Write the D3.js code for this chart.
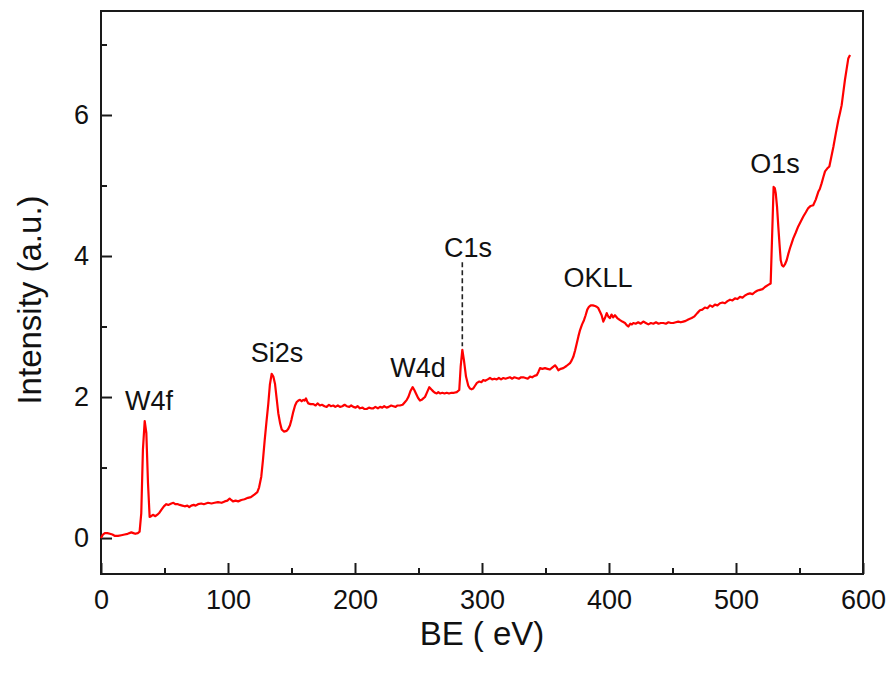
<!DOCTYPE html>
<html>
<head>
<meta charset="utf-8">
<script src="https://cdn.jsdelivr.net/npm/d3@7"></script>
<style>
    body { margin: 0; background: #fff; }
    svg { display: block; font-family: "Liberation Sans", Arial, sans-serif; }
</style>
</head>
<body>
<div id="chart"></div>
<script>
// XPS survey spectrum
const be = [
    0, 1.5, 3, 5, 7, 9, 11, 13.4, 16, 18.6, 21, 23.9, 25.5, 27, 29, 30.4, 31.7, 33, 34.4, 35.7,
    37, 38.3, 39.5, 40.9, 42.8, 44.9, 46, 47.5, 49.5, 51.4, 53, 55.4, 57, 58.5, 60.6, 62, 64, 65.9, 68, 69.5,
    71.1, 73, 74.5, 76.4, 79, 81, 84.3, 87, 89.5, 92.1, 95, 97.4, 99.5, 101.3, 102.5, 103.9, 106, 108, 110.5, 113,
    115.7, 118, 121, 123.1, 124.5, 126.2, 127.5, 128.9, 130.3, 131.7, 133, 134.4, 135.7, 137, 138.3, 139.6, 141, 142.3, 144, 146.2,
    147.5, 148.8, 150, 151.4, 152.8, 154.1, 155.4, 156.7, 158, 159.3, 160.3, 161.4, 162.3, 163.2, 165, 167.2, 169, 170.5, 172.4, 174,
    176, 177.7, 179.5, 181, 182.9, 184.5, 186.5, 188.2, 190, 191.8, 193.5, 195.5, 197, 198.7, 200.5, 202, 203.9, 206, 207.5, 209.2,
    211, 212.5, 214.4, 216, 218, 219.7, 221.5, 223, 224.9, 226.5, 228.5, 230.2, 232, 233.5, 235.4, 237.5, 239.4, 240.8, 242, 243.8,
    245.4, 246.7, 248, 249.6, 251.2, 252.5, 253.8, 255.1, 256.8, 258.5, 260, 261.6, 263, 264.3, 265.6, 267, 268.8, 270.5, 272.2, 274,
    276, 278, 280.1, 282.1, 283.2, 284.5, 285.8, 287.4, 289.2, 290.5, 291.8, 293, 294.5, 296, 297.9, 299.5, 301, 302.5, 304.5, 306.3,
    308, 309.8, 311.6, 313.3, 315, 316.8, 318.5, 320.2, 322, 323.8, 325.5, 327.3, 329, 330.8, 332.5, 334.3, 336, 337.8, 339.5, 341.3,
    343.1, 344.5, 345.7, 347.5, 349.6, 351.5, 353.5, 355.5, 357.5, 358.8, 360.1, 362, 364, 366.5, 369.3, 370.6, 371.9, 373.3, 374.6, 375.9,
    377.2, 378.8, 380.3, 381.6, 382.9, 384.2, 385.6, 387.3, 389, 390.3, 391.6, 392.9, 394.2, 395.5, 396.8, 398.2, 399.5, 400.8, 402, 403.3,
    404.7, 406.5, 408.7, 410.5, 412.6, 413.9, 415.2, 416.8, 418, 419.2, 421, 423, 425, 427, 429, 431, 433, 434.9, 437, 439,
    440.8, 442.8, 444.8, 446.8, 448.7, 450.6, 452.6, 454.5, 456.5, 458.5, 460.4, 462.4, 465.1, 467, 469.5, 471.6, 473.5, 475.5, 477.5, 479.5,
    481.5, 483.4, 485.4, 487.4, 489.4, 491.3, 493.3, 495.3, 497.2, 499.2, 501.2, 503.1, 505.1, 507.1, 509, 511, 513, 515, 517, 518.9,
    520.9, 522.8, 525.4, 527.3, 528.9, 529.6, 530.6, 531.3, 532.3, 533.3, 534.3, 535.2, 536.2, 537.3, 538.5, 539.9, 541.2, 542.5, 543.8, 545.1,
    547, 549, 551, 553, 555, 556.9, 558.8, 560.8, 562.8, 564.8, 566, 567.4, 568.8, 570.1, 571.8, 573.5, 575, 576.7, 578.6, 580.6,
    582, 583.2, 584.5, 585.8, 587.1, 588.4, 589.8
];

const intensity = [
    0.00, 0.05, 0.07, 0.07, 0.06, 0.05, 0.03, 0.03, 0.04, 0.05, 0.06, 0.08, 0.07, 0.06, 0.07, 0.09, 0.35, 1.25, 1.66, 1.49,
    0.78, 0.30, 0.31, 0.33, 0.31, 0.34, 0.36, 0.40, 0.45, 0.48, 0.47, 0.49, 0.50, 0.48, 0.48, 0.47, 0.46, 0.45, 0.46, 0.44,
    0.46, 0.47, 0.46, 0.48, 0.49, 0.48, 0.50, 0.49, 0.50, 0.51, 0.50, 0.52, 0.53, 0.56, 0.54, 0.52, 0.53, 0.52, 0.54, 0.55,
    0.57, 0.58, 0.62, 0.65, 0.72, 0.87, 1.10, 1.39, 1.65, 1.90, 2.18, 2.33, 2.29, 2.19, 1.98, 1.77, 1.63, 1.54, 1.51, 1.52,
    1.55, 1.60, 1.68, 1.79, 1.88, 1.93, 1.95, 1.96, 1.94, 1.96, 1.95, 1.98, 1.94, 1.91, 1.90, 1.90, 1.88, 1.91, 1.88, 1.89,
    1.87, 1.86, 1.89, 1.87, 1.88, 1.86, 1.88, 1.86, 1.87, 1.89, 1.87, 1.86, 1.88, 1.86, 1.85, 1.87, 1.84, 1.85, 1.83, 1.83,
    1.85, 1.84, 1.84, 1.86, 1.84, 1.86, 1.85, 1.87, 1.85, 1.86, 1.88, 1.87, 1.86, 1.88, 1.88, 1.89, 1.93, 1.96, 2.00, 2.09,
    2.14, 2.10, 2.05, 1.99, 1.95, 1.96, 1.98, 2.00, 2.07, 2.14, 2.11, 2.08, 2.06, 2.05, 2.07, 2.05, 2.06, 2.05, 2.06, 2.05,
    2.06, 2.06, 2.07, 2.10, 2.43, 2.67, 2.52, 2.29, 2.16, 2.12, 2.11, 2.12, 2.16, 2.20, 2.22, 2.21, 2.24, 2.23, 2.25, 2.27,
    2.25, 2.26, 2.25, 2.27, 2.25, 2.27, 2.26, 2.27, 2.28, 2.26, 2.28, 2.27, 2.26, 2.28, 2.28, 2.27, 2.26, 2.29, 2.28, 2.30,
    2.31, 2.36, 2.41, 2.40, 2.41, 2.40, 2.39, 2.42, 2.45, 2.42, 2.38, 2.40, 2.41, 2.44, 2.48, 2.52, 2.57, 2.66, 2.76, 2.86,
    2.95, 3.03, 3.09, 3.16, 3.24, 3.28, 3.30, 3.30, 3.29, 3.28, 3.26, 3.21, 3.16, 3.07, 3.12, 3.19, 3.14, 3.12, 3.17, 3.13,
    3.16, 3.12, 3.09, 3.07, 3.05, 3.02, 3.00, 3.04, 3.03, 3.05, 3.04, 3.06, 3.04, 3.07, 3.05, 3.03, 3.05, 3.04, 3.06, 3.04,
    3.05, 3.05, 3.04, 3.06, 3.05, 3.05, 3.06, 3.07, 3.06, 3.07, 3.08, 3.10, 3.12, 3.14, 3.19, 3.23, 3.24, 3.27, 3.26, 3.30,
    3.28, 3.31, 3.30, 3.33, 3.34, 3.33, 3.36, 3.38, 3.37, 3.40, 3.39, 3.42, 3.41, 3.44, 3.46, 3.47, 3.46, 3.49, 3.51, 3.52,
    3.53, 3.56, 3.59, 3.61, 4.56, 4.98, 4.96, 4.89, 4.70, 4.42, 4.16, 3.94, 3.87, 3.85, 3.88, 3.94, 4.03, 4.11, 4.18, 4.25,
    4.33, 4.42, 4.49, 4.56, 4.62, 4.68, 4.71, 4.72, 4.80, 4.91, 4.95, 5.03, 5.12, 5.20, 5.24, 5.27, 5.40, 5.55, 5.74, 5.93,
    6.04, 6.14, 6.32, 6.50, 6.65, 6.80, 6.85
];

const xMajorTicks = [0, 100, 200, 300, 400, 500, 600];
const xMinorTicks = [50, 150, 250, 350, 450, 550];
const yMajorTicks = [0, 2, 4, 6];
const yMinorTicks = [1, 3, 5, 7];

// peak labels, placed in data units (text centre x, baseline y)
const peakNames = ["W4f", "Si2s", "W4d", "C1s", "OKLL", "O1s"];
const peakLabelBE = [37.8, 138.6, 249.6, 289.0, 391.3, 530.7];
const peakLabelI = [1.82, 2.50, 2.28, 3.99, 3.56, 5.18];

// dashed marker above C1s
const c1sMarker = { be: 284.5, from: 3.91, to: 2.72 };

const width = 896;
const height = 677;
const margin = { top: 11, right: 33, bottom: 103, left: 101 };
const plotW = width - margin.left - margin.right;
const plotH = height - margin.top - margin.bottom;

const svg = d3.select("#chart")
              .append("svg")
              .attr("width", width)
              .attr("height", height);

const g = svg.append("g")
             .attr("transform", `translate(${margin.left},${margin.top})`);

const x = d3.scaleLinear().domain([0, 600]).range([0, plotW]);
const y = d3.scaleLinear().domain([-0.51, 7.475]).range([plotH, 0]);

// Axes (ticks point inward)
const xAxis = g.append("g")
               .attr("transform", `translate(0,${plotH})`)
               .call(d3.axisBottom(x).tickValues(xMajorTicks).tickSize(-11).tickPadding(16));
const xMinor = g.append("g")
                .attr("transform", `translate(0,${plotH})`)
                .call(d3.axisBottom(x).tickValues(xMinorTicks).tickSize(-6).tickFormat(""));
const yAxis = g.append("g")
               .call(d3.axisLeft(y).tickValues(yMajorTicks).tickSize(-11).tickPadding(12));
const yMinor = g.append("g")
                .call(d3.axisLeft(y).tickValues(yMinorTicks).tickSize(-6).tickFormat(""));

[xAxis, xMinor, yAxis, yMinor].forEach(a => {
    a.attr("font-size", null).attr("font-family", null);
    a.select(".domain").remove();
    a.selectAll("line").attr("stroke", "#1a1a1a").attr("stroke-width", 2);
    a.selectAll("text")
     .attr("fill", "#111")
     .style("font-size", "27px");
});

// Frame
g.append("rect")
 .attr("x", 0)
 .attr("y", 0)
 .attr("width", plotW)
 .attr("height", plotH)
 .attr("fill", "none")
 .attr("stroke", "#1a1a1a")
 .attr("stroke-width", 2);

// Spectrum
const line = d3.line()
               .x((d, i) => x(be[i]))
               .y(d => y(d));

g.append("path")
 .datum(intensity)
 .attr("d", line)
 .attr("fill", "none")
 .attr("stroke", "#ff0000")
 .attr("stroke-width", 2.2)
 .attr("stroke-linejoin", "round");

// C1s dashed marker
g.append("line")
 .attr("x1", x(c1sMarker.be))
 .attr("x2", x(c1sMarker.be))
 .attr("y1", y(c1sMarker.from))
 .attr("y2", y(c1sMarker.to))
 .attr("stroke", "#222")
 .attr("stroke-width", 1.6)
 .attr("stroke-dasharray", "5,3");

// Peak labels
g.selectAll("text.peak")
 .data(peakNames)
 .enter()
 .append("text")
 .attr("class", "peak")
 .attr("x", (d, i) => x(peakLabelBE[i]))
 .attr("y", (d, i) => y(peakLabelI[i]))
 .attr("text-anchor", "middle")
 .attr("fill", "#111")
 .style("font-size", "27px")
 .text(d => d);

// Axis titles
svg.append("text")
   .attr("x", 482)
   .attr("y", 645)
   .attr("text-anchor", "middle")
   .attr("fill", "#111")
   .style("font-size", "33px")
   .text("BE ( eV)");

svg.append("text")
   .attr("transform", "translate(41,300) rotate(-90)")
   .attr("text-anchor", "middle")
   .attr("fill", "#111")
   .style("font-size", "33px")
   .text("Intensity (a.u.)");
</script>
</body>
</html>
